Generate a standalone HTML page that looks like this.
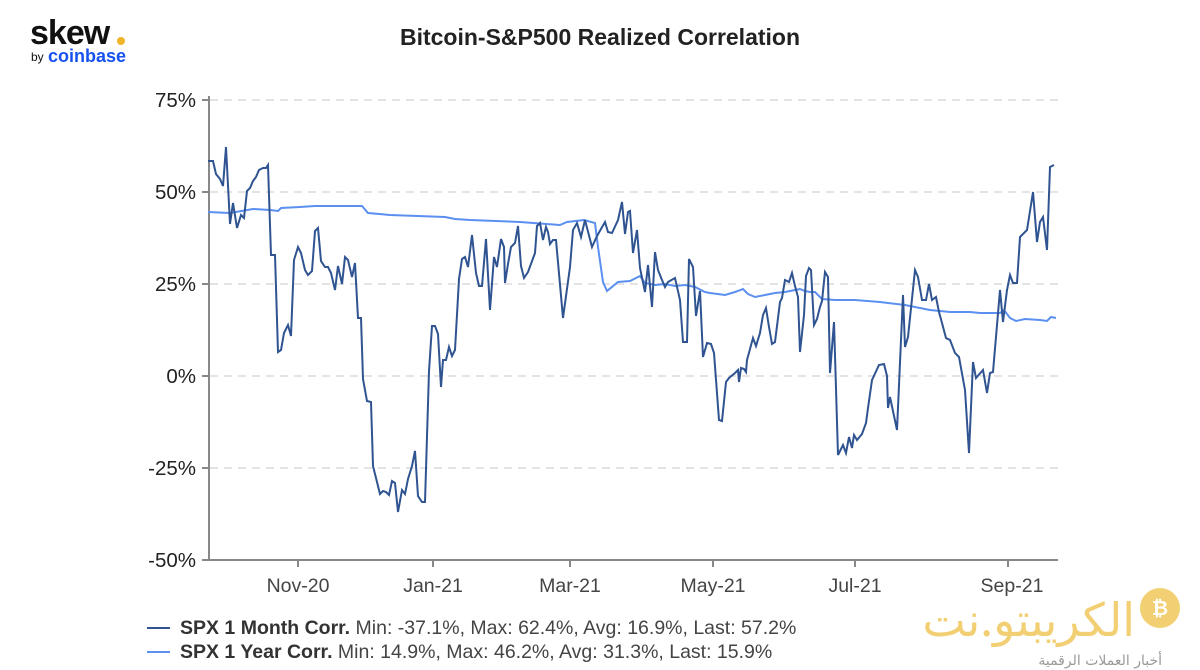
<!DOCTYPE html>
<html><head><meta charset="utf-8"><style>
body{margin:0;background:#fff;width:1200px;height:670px;overflow:hidden;font-family:"Liberation Sans",sans-serif}
</style></head><body>
<svg width="1200" height="670" xmlns="http://www.w3.org/2000/svg" style="position:absolute;left:0;top:0">
<text x="30" y="44" font-size="34" font-weight="bold" fill="#111" font-family="Liberation Sans" letter-spacing="-1">skew</text>
<circle cx="121" cy="41" r="4" fill="#f0b429"/>
<text x="31" y="61" font-size="12" fill="#111">by</text>
<text x="48" y="62" font-size="18" font-weight="bold" fill="#1652f0">coinbase</text>
<text x="600" y="45" font-size="23" fill="#222" text-anchor="middle" font-weight="bold">Bitcoin-S&amp;P500 Realized Correlation</text>
<g stroke="#e4e4e4" stroke-width="2" stroke-dasharray="8,6">
<line x1="210" y1="100" x2="1058" y2="100"/><line x1="210" y1="192" x2="1058" y2="192"/>
<line x1="210" y1="284" x2="1058" y2="284"/><line x1="210" y1="376" x2="1058" y2="376"/>
<line x1="210" y1="468" x2="1058" y2="468"/>
</g>
<g stroke="#888" stroke-width="2">
<line x1="209" y1="96" x2="209" y2="560"/><line x1="209" y1="560" x2="1058" y2="560"/>
<line x1="202" y1="100" x2="209" y2="100"/><line x1="202" y1="192" x2="209" y2="192"/>
<line x1="202" y1="284" x2="209" y2="284"/><line x1="202" y1="376" x2="209" y2="376"/>
<line x1="202" y1="468" x2="209" y2="468"/><line x1="202" y1="560" x2="209" y2="560"/>
<line x1="298" y1="560" x2="298" y2="567"/><line x1="433" y1="560" x2="433" y2="567"/>
<line x1="570" y1="560" x2="570" y2="567"/><line x1="713" y1="560" x2="713" y2="567"/>
<line x1="855" y1="560" x2="855" y2="567"/><line x1="1008" y1="560" x2="1008" y2="567"/>
</g>
<g font-size="20.5" fill="#222" text-anchor="end">
<text x="196" y="107">75%</text><text x="196" y="199">50%</text><text x="196" y="291">25%</text>
<text x="196" y="383">0%</text><text x="196" y="475">-25%</text><text x="196" y="567">-50%</text>
</g>
<g font-size="19.5" fill="#444" text-anchor="middle">
<text x="298" y="592">Nov-20</text><text x="433" y="592">Jan-21</text><text x="570" y="592">Mar-21</text>
<text x="713" y="592">May-21</text><text x="855" y="592">Jul-21</text><text x="1012" y="592">Sep-21</text>
</g>
<polyline fill="none" stroke="#5b8ff0" stroke-width="2" points="208,212 230,213 253,209 270,210 278,211 281,208 300,207 315,206 362,206 368,213 390,215 445,217 455,219 470,220 520,222 560,225 567,222 584,220 595,223 598,247 603,282 607,291 618,282 630,281 640,276 645,283 655,285 665,284 675,286 685,285 695,287 705,292 710,293 725,295 735,292 743,289 748,294 755,297 765,295 775,293 785,292 795,290 800,289 805,291 810,292 815,292 822,299 835,300 855,300 880,302 905,305 930,310 950,312 970,312 980,313 1000,313 1004,310 1010,318 1016,321 1025,319 1040,320 1047,321 1051,317 1056,318"/>
<polyline fill="none" stroke="#2f5491" stroke-width="2" points="208,161 213,161 216,174 220,179 223,186 226,147 230,224 233,203 237,228 241,215 244,218 247,191 250,188 253,181 256,177 259,170 263,168 266,168 268,165 271,255 275,255 278,352 281,350 284,333 288,325 291,336 294,260 298,247 301,253 305,270 308,275 312,271 315,231 318,228 321,261 325,267 328,267 331,273 335,290 338,266 342,284 345,257 348,260 352,277 355,263 358,318 361,318 363,379 367,401 371,402 373,466 377,482 380,494 383,491 386,492 389,495 392,481 395,483 398,512 402,490 405,494 408,479 412,466 415,451 418,496 422,502 425,502 429,371 432,326 435,326 438,334 441,387 443,360 446,360 449,347 452,356 455,350 459,279 462,259 465,257 468,267 472,235 476,273 479,286 482,286 486,239 490,310 494,257 497,267 501,239 504,247 505,283 508,264 511,247 515,243 518,226 521,266 524,278 528,272 535,253 537,226 540,223 543,240 546,227 548,232 550,244 553,240 556,240 563,318 570,267 573,230 577,223 581,237 585,220 592,247 597,236 605,222 608,232 612,233 618,220 622,202 625,234 628,212 630,211 633,253 637,230 640,268 645,292 648,265 652,307 655,252 658,270 662,280 665,287 668,282 675,278 680,300 683,342 687,342 689,259 693,267 696,316 700,291 703,357 707,343 711,344 714,353 719,420 722,421 726,382 729,378 735,373 738,370 739,382 741,368 744,369 746,372 747,360 750,349 753,338 756,346 760,333 763,315 766,308 769,327 772,344 775,342 780,302 782,298 785,280 789,282 792,273 795,286 798,297 800,352 804,315 806,276 809,268 811,270 814,325 817,319 820,307 822,301 825,272 828,277 830,373 834,322 838,455 843,445 846,453 849,437 852,448 854,435 857,440 862,434 866,423 868,408 872,380 879,365 884,364 887,376 888,408 890,397 897,430 903,295 905,347 908,337 915,270 918,277 922,300 926,300 929,284 932,300 936,297 939,312 942,323 946,338 950,340 955,353 959,357 965,390 969,453 973,362 976,378 983,370 987,393 990,373 993,372 1000,290 1003,322 1007,290 1010,275 1013,283 1017,283 1020,237 1027,230 1033,192 1037,242 1040,222 1043,217 1047,250 1050,167 1054,165"/>
<line x1="147" y1="628" x2="170" y2="628" stroke="#2f5491" stroke-width="2"/>
<line x1="147" y1="652" x2="170" y2="652" stroke="#5b8ff0" stroke-width="2"/>
<text x="180" y="634" font-size="19.5" fill="#444"><tspan font-weight="bold" fill="#333">SPX 1 Month Corr.</tspan> Min: -37.1%, Max: 62.4%, Avg: 16.9%, Last: 57.2%</text>
<text x="180" y="658" font-size="19.5" fill="#444"><tspan font-weight="bold" fill="#333">SPX 1 Year Corr.</tspan> Min: 14.9%, Max: 46.2%, Avg: 31.3%, Last: 15.9%</text>
<text x="1135" y="636" font-size="46" fill="#f0c75a" text-anchor="end" font-family="Noto Sans CJK SC, DejaVu Sans, sans-serif" opacity="0.85">الكريبتو.نت</text>
<circle cx="1160" cy="608" r="20" fill="#f0c75a" opacity="0.85"/>
<text x="1160" y="615" font-size="20" fill="#fff" text-anchor="middle" font-weight="bold">₿</text>
<text x="1162" y="665" font-size="14" fill="#999" text-anchor="end" font-family="DejaVu Sans, sans-serif">أخبار العملات الرقمية</text>
</svg>
</body></html>
